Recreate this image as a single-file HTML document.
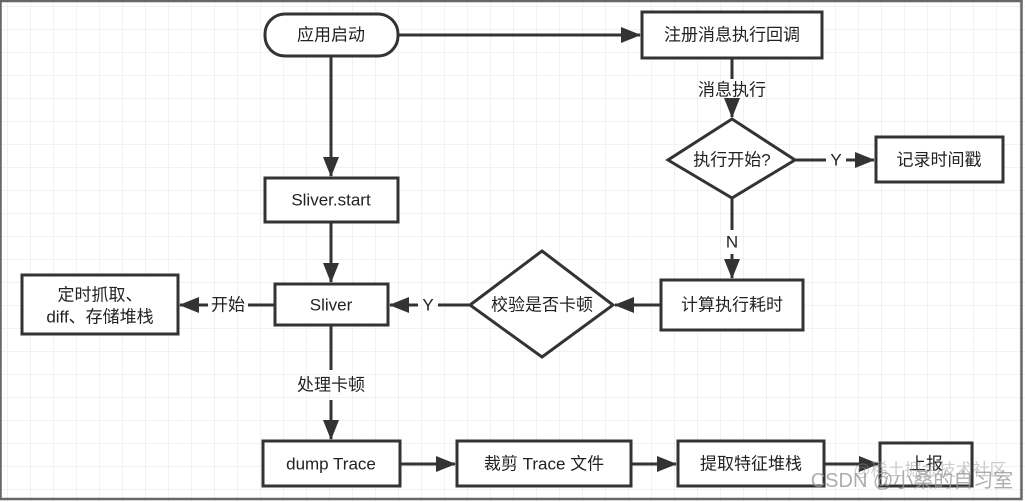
<!DOCTYPE html>
<html><head><meta charset="utf-8"><style>
html,body{margin:0;padding:0;background:#fff}
svg{display:block}
text{font-family:"Liberation Sans","Noto Sans CJK SC",sans-serif;font-size:17px;fill:#222;text-anchor:middle;dominant-baseline:central}
.b{fill:#fff;stroke:#333;stroke-width:3}
.l{stroke:#333;stroke-width:3;fill:none}
</style></head><body>
<svg width="1025" height="502" viewBox="0 0 1025 502" xmlns="http://www.w3.org/2000/svg">
<defs>
<pattern id="g" width="23" height="23" patternUnits="userSpaceOnUse" x="8" y="7">
<path d="M23 0V23M0 23H23" stroke="#e6e6e6" stroke-width="1" fill="none"/>
</pattern>
<marker id="a" markerWidth="20" markerHeight="18" refX="19" refY="9" orient="auto" markerUnits="userSpaceOnUse">
<path d="M0,1 L20,9 L0,17 z" fill="#333"/>
</marker>
</defs>
<rect width="1025" height="502" fill="#fff"/>
<rect width="1025" height="502" fill="url(#g)"/>
<rect x="0.5" y="1" width="1021" height="498" fill="none" stroke="#666" stroke-width="2.5"/>

<path class="l" d="M398 35H640" marker-end="url(#a)"/>
<path class="l" d="M331 56V176" marker-end="url(#a)"/>
<path class="l" d="M732 58V79M732 101V117" marker-end="url(#a)"/>
<path class="l" d="M795 160H826M846 160H874" marker-end="url(#a)"/>
<path class="l" d="M732 198V230M732 254V278" marker-end="url(#a)"/>
<path class="l" d="M661 305H615" marker-end="url(#a)"/>
<path class="l" d="M470 305H438M418 305H390" marker-end="url(#a)"/>
<path class="l" d="M331 222V282" marker-end="url(#a)"/>
<path class="l" d="M275 305H248M208 305H180" marker-end="url(#a)"/>
<path class="l" d="M331 325V370M331 400V439" marker-end="url(#a)"/>
<path class="l" d="M400 464H455" marker-end="url(#a)"/>
<path class="l" d="M631 464H676" marker-end="url(#a)"/>
<path class="l" d="M824 464H878" marker-end="url(#a)"/>

<rect class="b" x="265" y="14" width="133" height="42" rx="20"/>
<text x="331" y="35">应用启动</text>
<rect class="b" x="642" y="12" width="180" height="46"/>
<text x="732" y="35">注册消息执行回调</text>
<text x="732" y="90">消息执行</text>
<polygon class="b" points="732,119 795,160 732,198 668,160"/>
<text x="732" y="160">执行开始?</text>
<text x="836" y="160">Y</text>
<rect class="b" x="876" y="137" width="127" height="45"/>
<text x="939" y="160">记录时间戳</text>
<text x="732" y="242">N</text>
<rect class="b" x="661" y="280" width="142" height="50"/>
<text x="732" y="305">计算执行耗时</text>
<polygon class="b" points="542,251 613,305 542,357 470,305"/>
<text x="542" y="305">校验是否卡顿</text>
<text x="428" y="305">Y</text>
<rect class="b" x="265" y="178" width="133" height="44"/>
<text x="331" y="200">Sliver.start</text>
<rect class="b" x="275" y="284" width="113" height="41"/>
<text x="331" y="305">Sliver</text>
<text x="228" y="305">开始</text>
<rect class="b" x="22" y="275" width="156" height="59"/>
<text x="100" y="295">定时抓取、</text>
<text x="100" y="317">diff、存储堆栈</text>
<text x="331" y="385">处理卡顿</text>
<rect class="b" x="263" y="441" width="137" height="45"/>
<text x="331" y="464">dump Trace</text>
<rect class="b" x="457" y="441" width="174" height="45"/>
<text x="544" y="464">裁剪 Trace 文件</text>
<rect class="b" x="678" y="441" width="146" height="45"/>
<text x="751" y="464">提取特征堆栈</text>
<rect class="b" x="880" y="443" width="92" height="43"/>
<text x="926" y="464">上报</text>
<text x="912" y="481" style="fill:#999;fill-opacity:.8;font-size:20px">CSDN @小桑的自习室</text>
<text x="930" y="470" style="fill:#999;fill-opacity:.5;font-size:17px">@稀土掘金技术社区</text>
</svg>
</body></html>
